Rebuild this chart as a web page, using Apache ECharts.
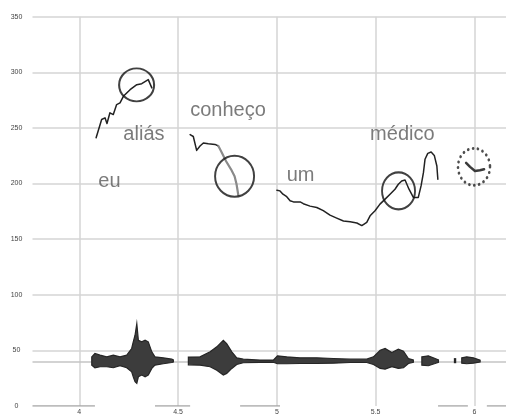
<!DOCTYPE html>
<html>
<head>
<meta charset="utf-8">
<script src="https://cdn.jsdelivr.net/npm/echarts@6/dist/echarts.min.js"></script>
<style>
  html, body { margin: 0; padding: 0; background: #fff; }
  #chart { width: 506px; height: 416px; }
</style>
</head>
<body>
<div id="chart"></div>
<script>
// Axis ticks: time in seconds, pitch in Hz
const timeTicks = [4, 4.5, 5, 5.5, 6];
const timeRange = [3.763, 6.160];
const pitchRange = [0, 350];
const pitchStep = 50;

// Word labels anchored at (time, pitch)
const words = ['eu', 'aliás', 'conheço', 'um', 'médico'];
const wordTime = [4.096, 4.223, 4.561, 5.050, 5.472];
const wordPitch = [201.5, 244.4, 265.9, 206.8, 244.4];

// Pitch contours [time, Hz]
const contourAlias = [
  [4.085, 241.2], [4.113, 257.6], [4.130, 259.1], [4.140, 254.0], [4.155, 263.6],
  [4.172, 262.0], [4.189, 271.0], [4.206, 272.5], [4.223, 278.4], [4.257, 284.4],
  [4.291, 288.9], [4.316, 289.8], [4.349, 293.4], [4.367, 286.0]
];
const contourConhecoHead = [
  [4.561, 244.0], [4.577, 242.3], [4.594, 229.8], [4.611, 233.7], [4.628, 236.5],
  [4.653, 235.8], [4.687, 235.2], [4.704, 233.8]
];
const contourConhecoTail = [
  [4.704, 233.8], [4.721, 228.0], [4.743, 220.0], [4.768, 212.8], [4.786, 206.5],
  [4.796, 199.4], [4.805, 189.5]
];
const contourUmMedico = [
  [5.000, 194.0], [5.016, 193.4], [5.031, 190.4], [5.050, 188.2], [5.067, 184.6],
  [5.084, 183.5], [5.118, 183.5], [5.134, 181.9], [5.168, 179.7], [5.202, 178.5],
  [5.235, 175.6], [5.269, 171.6], [5.303, 168.9], [5.337, 166.3], [5.371, 165.6],
  [5.405, 164.5], [5.430, 162.2], [5.438, 162.0], [5.455, 165.1], [5.472, 171.0],
  [5.497, 175.5], [5.522, 181.5], [5.548, 186.0], [5.573, 190.4], [5.598, 194.9],
  [5.615, 199.4], [5.632, 202.3], [5.649, 203.2], [5.669, 194.9], [5.691, 187.5],
  [5.716, 187.5], [5.730, 197.9], [5.742, 209.8], [5.750, 221.8], [5.764, 227.1],
  [5.781, 228.3], [5.797, 225.3], [5.810, 215.8], [5.815, 203.9]
];
const contourFinal = [
  [5.958, 218.6], [5.978, 215.0], [6.003, 211.3], [6.028, 211.9], [6.049, 212.8]
];

// Highlight rings (centre time, centre pitch)
const ringTime = [4.290, 4.786, 5.616];
const ringPitch = [288.7, 206.5, 193.4];
const ringSizes = [[35, 33], [39, 41], [33, 37]];
const dottedRingTime = [5.998];
const dottedRingPitch = [215.0];

// Oscillogram envelope; null splits the chunks
const waveCenter = 40.2;
const waveTime = [
  4.063, 4.079, 4.105, 4.139, 4.172, 4.206, 4.240, 4.265, 4.273, 4.282, 4.291, 4.299,
  4.316, 4.333, 4.349, 4.367, 4.383, 4.425, 4.468, 4.476, null,
  4.552, 4.611, 4.662, 4.696, 4.729, 4.746, 4.772, 4.797, 4.830, 4.915, 4.982,
  5.003, 5.050, 5.117, 5.202, 5.286, 5.371, 5.455, 5.489, 5.523, 5.548, 5.582,
  5.615, 5.641, 5.666, 5.691, null,
  5.734, 5.767, 5.801, 5.818, null,
  5.899, 5.905, null,
  5.936, 5.961, 5.995, 6.029
];
const waveUpper = [
  44.2, 47.2, 45.7, 44.2, 45.7, 44.2, 45.7, 51.7, 57.7, 63.6, 74.0, 59.1,
  57.7, 59.1, 57.7, 48.7, 44.2, 43.3, 42.1, 41.5, null,
  44.0, 44.2, 48.7, 53.2, 59.1, 56.1, 48.7, 43.3, 42.1, 41.3, 41.3,
  45.1, 44.2, 43.3, 43.3, 42.7, 42.1, 42.1, 44.2, 50.1, 51.7, 48.1,
  51.0, 49.2, 42.7, 41.3, null,
  44.2, 45.1, 42.7, 41.5, null,
  42.5, 42.5, null,
  43.3, 44.2, 43.3, 41.3
];
const waveLower = [
  36.7, 34.4, 35.3, 35.3, 34.4, 36.2, 34.4, 30.8, 26.3, 21.8, 20.3, 26.3,
  27.8, 26.3, 27.8, 33.8, 36.7, 38.0, 39.1, 39.5, null,
  37.0, 36.7, 35.3, 32.2, 27.8, 29.3, 33.8, 37.3, 38.9, 39.3, 39.3,
  38.0, 38.0, 38.2, 38.2, 38.5, 39.1, 39.1, 37.3, 33.8, 33.1, 35.3,
  33.8, 34.4, 38.2, 39.3, null,
  36.7, 36.2, 38.2, 39.3, null,
  39.0, 39.0, null,
  38.5, 38.0, 38.5, 39.5
];

// Pieces of the bottom axis rule
const axisRuleTime = [3.763, 4.079, null, 4.383, 4.561, null, 4.814, 5.016, null,
  5.816, 5.967, null, 6.063, 6.160];

const gridColor = '#d4d4d4';
const inkColor = '#222';

function renderWave(params, api) {
  const children = [];
  let upper = [], lower = [];
  const flush = function () {
    if (upper.length > 1) {
      children.push({
        type: 'polygon',
        shape: { points: upper.concat(lower.slice().reverse()) },
        style: { fill: '#3c3c3c', stroke: '#262626', lineWidth: 1.2 }
      });
    }
    upper = []; lower = [];
  };
  for (let i = 0; i < waveTime.length; i++) {
    if (waveTime[i] === null) { flush(); continue; }
    upper.push(api.coord([waveTime[i], waveUpper[i]]));
    lower.push(api.coord([waveTime[i], waveLower[i]]));
  }
  flush();
  return { type: 'group', children: children };
}

function contourSeries(data, color, width) {
  return {
    type: 'line', data: data, symbol: 'none', z: 4,
    lineStyle: { color: color, width: width, cap: 'round', join: 'round' },
    silent: true
  };
}

const chart = echarts.init(document.getElementById('chart'), null, { renderer: 'canvas' });
chart.setOption({
  animation: false,
  backgroundColor: '#fff',
  grid: { left: 32.5, right: 0, top: 16.7, bottom: 8.3, containLabel: false },
  xAxis: {
    type: 'value', min: timeRange[0], max: timeRange[1],
    axisLine: { show: false }, axisTick: { show: false }, splitLine: { show: false },
    axisLabel: {
      customValues: timeTicks, fontSize: 7, color: '#444', margin: 3,
      fontFamily: 'Liberation Sans'
    }
  },
  yAxis: {
    type: 'value', min: pitchRange[0], max: pitchRange[1], interval: pitchStep,
    axisLine: { show: false }, axisTick: { show: false },
    splitLine: { show: true, showMinLine: false, lineStyle: { color: gridColor, width: 1.5 } },
    axisLabel: { fontSize: 7, color: '#444', align: 'center', margin: 16, fontFamily: 'Liberation Sans' }
  },
  series: [
    {
      // bottom rule pieces, plus vertical time grid and waveform centre line
      type: 'line', z: 1, symbol: 'none', silent: true,
      data: axisRuleTime.map(function (t) { return t === null ? [null, '-'] : [t, 0]; }),
      lineStyle: { color: '#a8a8a8', width: 1.5 },
      markLine: {
        z: 1, silent: true, symbol: 'none', label: { show: false },
        lineStyle: { color: gridColor, width: 1.5, type: 'solid' },
        data: timeTicks.map(function (t) { return { xAxis: t }; })
          .concat([{ yAxis: waveCenter, lineStyle: { color: '#c4c4c4', width: 1.5, type: 'solid' } }])
      }
    },
    {
      type: 'custom', z: 3, silent: true, clip: false,
      renderItem: renderWave,
      data: [[waveTime[0], waveCenter]]
    },
    contourSeries(contourAlias, inkColor, 1.5),
    contourSeries(contourConhecoHead, inkColor, 1.5),
    contourSeries(contourConhecoTail, '#8a8a8a', 2.2),
    contourSeries(contourUmMedico, inkColor, 1.5),
    contourSeries(contourFinal, '#3a3a3a', 2.5),
    {
      type: 'scatter', z: 5, silent: true, symbol: 'circle',
      data: ringTime.map(function (t, i) {
        return { value: [t, ringPitch[i]], symbolSize: ringSizes[i] };
      }),
      itemStyle: { color: 'rgba(0,0,0,0)', borderColor: '#111', borderWidth: 2 }
    },
    {
      type: 'scatter', z: 5, silent: true, symbol: 'circle', symbolSize: [32, 37],
      data: dottedRingTime.map(function (t, i) { return [t, dottedRingPitch[i]]; }),
      itemStyle: {
        color: 'rgba(0,0,0,0)', borderColor: '#222', borderWidth: 2.8,
        borderType: [0.1, 5.2], borderCap: 'round'
      }
    },
    {
      type: 'scatter', z: 6, silent: true, symbolSize: 0,
      data: words.map(function (w, i) { return { name: w, value: [wordTime[i], wordPitch[i]] }; }),
      label: {
        show: true, position: 'right', distance: 0, formatter: '{b}',
        fontSize: 20, color: '#5a5a5a', fontFamily: 'Liberation Sans'
      }
    }
  ]
});
</script>
</body>
</html>
